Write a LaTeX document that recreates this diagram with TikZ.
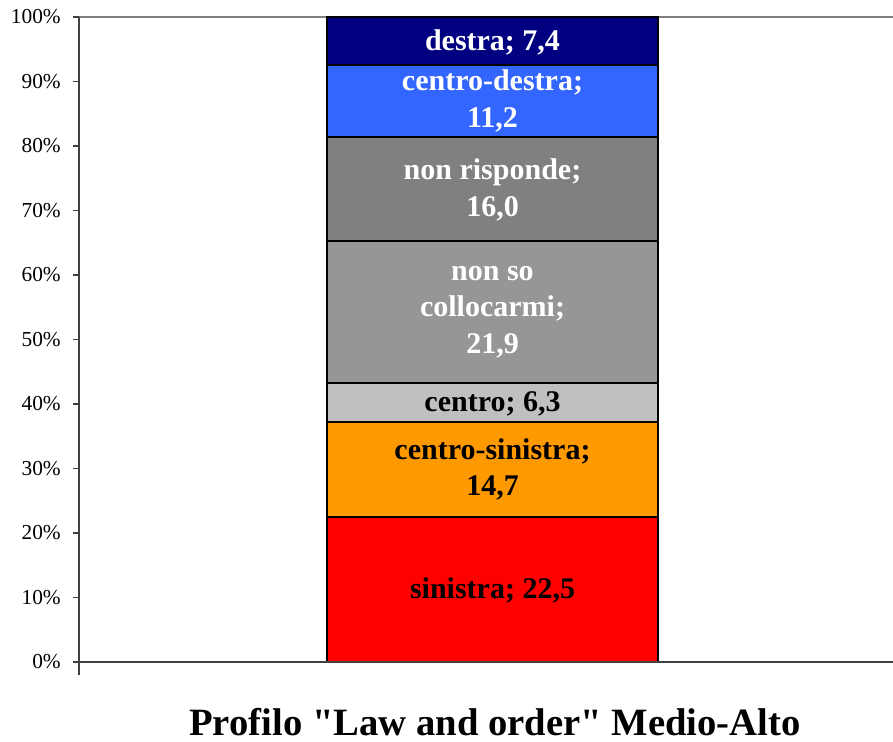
\documentclass[tikz,border=0pt]{standalone}
\usepackage{fontspec}
\setmainfont{Liberation Serif}
\definecolor{destracol}{RGB}{0,0,128}
\definecolor{cdestracol}{RGB}{51,102,255}
\definecolor{nonrispcol}{RGB}{128,128,128}
\definecolor{nonsocol}{RGB}{150,150,150}
\definecolor{centrocol}{RGB}{192,192,192}
\definecolor{csinistracol}{RGB}{255,153,0}
\definecolor{sinistracol}{RGB}{255,0,0}
\begin{document}
\begin{tikzpicture}[x=0.75pt,y=-0.75pt,
	seg/.style={draw=black,line width=1.1pt},
	seglabel/.style={font=\fontsize{22.5}{27.5}\selectfont\bfseries,align=center,inner sep=0pt},
	ticklabel/.style={font=\fontsize{16}{18}\selectfont,anchor=east,inner sep=0pt},
	axis/.style={line width=0.8pt,draw=black!75}]
	\useasboundingbox (0,0) rectangle (893,742);
	
	\draw[line width=0.8pt,gray] (79,17) -- (893,17);
	
	\draw[seg,fill=sinistracol] (327,662) rectangle (658,517);
	\draw[seg,fill=csinistracol] (327,517) rectangle (658,422);
	\draw[seg,fill=centrocol] (327,422) rectangle (658,383);
	\draw[seg,fill=nonsocol] (327,383) rectangle (658,241);
	\draw[seg,fill=nonrispcol] (327,241) rectangle (658,137);
	\draw[seg,fill=cdestracol] (327,137) rectangle (658,65);
	\draw[seg,fill=destracol] (327,65) rectangle (658,17);
	
	\node[seglabel] (sinistra) at (492.5,590) {sinistra; 22,5};
	\node[seglabel] (csinistra) at (492.5,469.5) {centro-sinistra;\\14,7};
	\node[seglabel] (centro) at (492.5,404) {centro; 6,3};
	\node[seglabel,white] (nonso) at (492.5,312) {non so\\collocarmi;\\21,9};
	\node[seglabel,white] (nonrisp) at (492.5,190) {non risponde;\\16,0};
	\node[seglabel,white] (cdestra) at (492.5,101) {centro-destra;\\11,2};
	\node[seglabel,white] (destra) at (492.5,42) {destra; 7,4};
	
	\draw[axis] (79,17) -- (79,675);
	\draw[axis] (73,662) -- (893,662);
	
	\draw[axis] (73,17) -- (79,17);
	\draw[axis] (73,81.5) -- (79,81.5);
	\draw[axis] (73,146) -- (79,146);
	\draw[axis] (73,210.5) -- (79,210.5);
	\draw[axis] (73,275) -- (79,275);
	\draw[axis] (73,339.5) -- (79,339.5);
	\draw[axis] (73,404) -- (79,404);
	\draw[axis] (73,468.5) -- (79,468.5);
	\draw[axis] (73,533) -- (79,533);
	\draw[axis] (73,597.5) -- (79,597.5);
	
	\node[ticklabel] (t100) at (61,17) {100\%};
	\node[ticklabel] (t90) at (61,81.5) {90\%};
	\node[ticklabel] (t80) at (61,146) {80\%};
	\node[ticklabel] (t70) at (61,210.5) {70\%};
	\node[ticklabel] (t60) at (61,275) {60\%};
	\node[ticklabel] (t50) at (61,339.5) {50\%};
	\node[ticklabel] (t40) at (61,404) {40\%};
	\node[ticklabel] (t30) at (61,468.5) {30\%};
	\node[ticklabel] (t20) at (61,533) {20\%};
	\node[ticklabel] (t10) at (61,597.5) {10\%};
	\node[ticklabel] (t0) at (61,662) {0\%};
	
	\node[font=\fontsize{29}{32}\selectfont\bfseries] (title) at (495,722) {Profilo \textquotedbl Law and order\textquotedbl{} Medio-Alto};
\end{tikzpicture}
\end{document}
